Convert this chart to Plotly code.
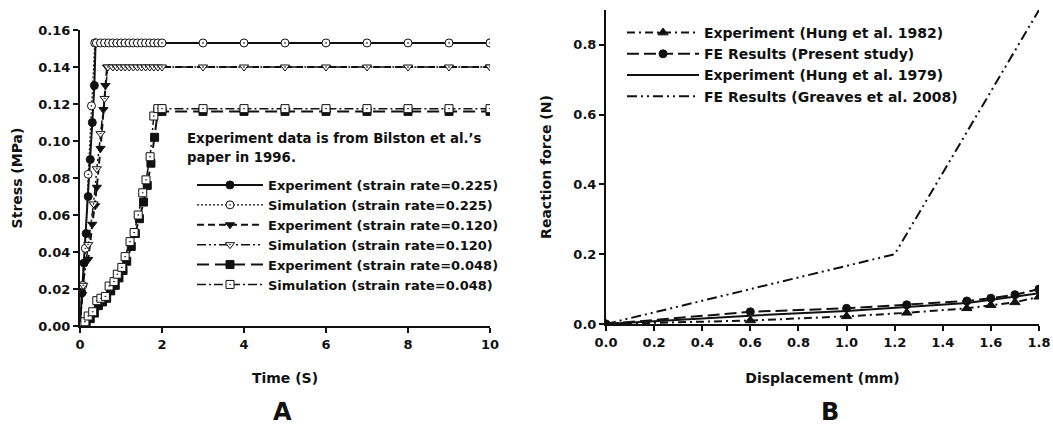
import plotly.graph_objects as go

# ---------------- Panel A data ----------------
exp225_x = [0, 0.05, 0.10, 0.15, 0.20, 0.25, 0.30, 0.35, 0.38, 10]
exp225_y = [0, 0.018, 0.034, 0.050, 0.070, 0.090, 0.110, 0.130, 0.153, 0.153]

sim225_x = [0, 0.07, 0.13, 0.20, 0.28, 0.36, 0.4, 0.5, 0.6, 0.7, 0.8, 0.9, 1.0, 1.1, 1.2,
            1.3, 1.4, 1.5, 1.6, 1.7, 1.8, 1.9, 2.0, 3, 4, 5, 6, 7, 8, 9, 10]
sim225_y = [0, 0.022, 0.042, 0.082, 0.119, 0.153] + [0.153] * 25

exp120_x = [0, 0.05, 0.10, 0.20, 0.30, 0.37, 0.41, 0.50, 0.57, 0.62, 0.66, 10]
exp120_y = [0, 0.017, 0.034, 0.036, 0.055, 0.065, 0.075, 0.096, 0.117, 0.130, 0.140, 0.140]

sim120_x = [0, 0.08, 0.20, 0.33, 0.41, 0.50, 0.60, 0.68, 0.8, 0.9, 1.0, 1.1, 1.2, 1.3,
            1.4, 1.5, 1.6, 1.7, 1.8, 1.9, 2.0, 3, 4, 5, 6, 7, 8, 9, 10]
sim120_y = [0, 0.022, 0.044, 0.066, 0.085, 0.104, 0.123, 0.140] + [0.140] * 21

exp048_x = [0, 0.15, 0.25, 0.35, 0.45, 0.55, 0.65, 0.75, 0.86, 0.95, 1.05, 1.14, 1.25,
            1.35, 1.45, 1.55, 1.64, 1.73, 1.82, 1.9, 2, 3, 4, 5, 6, 7, 8, 9, 10]
exp048_y = [0, 0.002, 0.004, 0.007, 0.011, 0.013, 0.015, 0.019, 0.022, 0.026, 0.030, 0.035,
            0.043, 0.050, 0.058, 0.067, 0.076, 0.088, 0.102, 0.116] + [0.116] * 9

sim048_x = [0, 0.12, 0.20, 0.31, 0.41, 0.51, 0.62, 0.71, 0.83, 0.91, 1.02, 1.10, 1.22,
            1.32, 1.42, 1.53, 1.61, 1.71, 1.80, 1.9, 2, 3, 4, 5, 6, 7, 8, 9, 10]
sim048_y = [0, 0.0023, 0.0054, 0.0077, 0.0137, 0.015, 0.016, 0.0216, 0.024, 0.028, 0.0317,
            0.0375, 0.0456, 0.0505, 0.060, 0.072, 0.079, 0.0915, 0.1135, 0.1175] + [0.1175] * 9

# ---------------- Panel B data ----------------
hung82_x = [0, 0.6, 1.0, 1.25, 1.5, 1.6, 1.7, 1.8]
hung82_y = [0, 0.010, 0.022, 0.032, 0.045, 0.054, 0.062, 0.078]

fe_x = [0, 0.6, 1.0, 1.25, 1.5, 1.6, 1.7, 1.8]
fe_y = [0, 0.035, 0.045, 0.055, 0.066, 0.074, 0.084, 0.100]

hung79_x = [0, 0.6, 1.0, 1.25, 1.5, 1.8]
hung79_y = [0, 0.024, 0.037, 0.048, 0.060, 0.088]

greaves_x = [0, 0.6, 1.2, 1.8]
greaves_y = [0, 0.100, 0.200, 0.900]

FONT = "DejaVu Sans, Arial, sans-serif"
BLACK = "#111111"

fig = go.Figure()

def add(x, y, name, dash, width, symbol, fill, size, legend, xa, ya):
    fig.add_trace(go.Scatter(
        x=x, y=y, name=name, mode="lines+markers" if symbol else "lines",
        line=dict(color=BLACK, dash=dash, width=width),
        marker=dict(symbol=symbol or "circle", color=fill, size=size,
                    line=dict(color=BLACK, width=1)),
        legend=legend, xaxis=xa, yaxis=ya))

# Panel A
add(exp225_x, exp225_y, "Experiment (strain rate=0.225)", "solid", 2, "circle", BLACK, 8, "legend", "x", "y")
add(exp120_x, exp120_y, "Experiment (strain rate=0.120)", "7px,4px", 2, "triangle-down", BLACK, 8, "legend", "x", "y")
add(exp048_x, exp048_y, "Experiment (strain rate=0.048)", "12px,6px", 2, "square", BLACK, 8, "legend", "x", "y")
add(sim225_x, sim225_y, "Simulation (strain rate=0.225)", "2px,2px", 1.2, "circle-dot", "white", 8, "legend", "x", "y")
add(sim120_x, sim120_y, "Simulation (strain rate=0.120)", "9px,3px,2px,3px,2px,3px", 1.5, "triangle-down-dot", "white", 8, "legend", "x", "y")
add(sim048_x, sim048_y, "Simulation (strain rate=0.048)", "9px,3px,2px,3px", 1.5, "square-dot", "white", 8, "legend", "x", "y")

# Panel B
add(hung82_x, hung82_y, "Experiment (Hung et al. 1982)", "8px,4px,2px,4px", 2, "triangle-up", BLACK, 9, "legend2", "x2", "y2")
add(fe_x, fe_y, "FE Results (Present study)", "12px,5px", 2, "circle", BLACK, 8, "legend2", "x2", "y2")
add(hung79_x, hung79_y, "Experiment (Hung et al. 1979)", "solid", 2, None, BLACK, 8, "legend2", "x2", "y2")
add(greaves_x, greaves_y, "FE Results (Greaves et al. 2008)", "10px,4px,2px,4px,2px,4px", 2, None, BLACK, 8, "legend2", "x2", "y2")

def font(size):
    return dict(family=FONT, size=size, color=BLACK, weight="bold")

axis_common = dict(showline=True, linecolor=BLACK, linewidth=2, ticks="outside",
                   ticklen=5, tickwidth=2, tickcolor=BLACK, showgrid=False, zeroline=False,
                   tickfont=font(13), mirror=False, automargin=False)

fig.update_layout(
    width=1053, height=428, margin=dict(l=0, r=0, t=0, b=0, autoexpand=False),
    paper_bgcolor="white", plot_bgcolor="white",
    font=dict(family=FONT, color=BLACK),
    xaxis=dict(domain=[80 / 1053, 490 / 1053], range=[0, 10], dtick=2, anchor="y",
               title=dict(text="Time (S)", font=font(14), standoff=23), **axis_common),
    yaxis=dict(domain=[102 / 428, 398 / 428], range=[0, 0.16], dtick=0.02, tickformat=".2f",
               anchor="x", title=dict(text="Stress (MPa)", font=font(14), standoff=12), **axis_common),
    xaxis2=dict(domain=[606 / 1053, 1039 / 1053], range=[0, 1.8], dtick=0.2, tickformat=".1f",
                anchor="y2", title=dict(text="Displacement (mm)", font=font(14), standoff=25), **axis_common),
    yaxis2=dict(domain=[104 / 428, 418 / 428], range=[0, 0.9], dtick=0.2, tickformat=".1f",
                anchor="x2", title=dict(text="Reaction force (N)", font=font(14), standoff=18), **axis_common),
    legend=dict(x=192 / 1053, y=1 - 170 / 428, xanchor="left", yanchor="top", itemwidth=66,
                bgcolor="rgba(0,0,0,0)", tracegroupgap=0, traceorder="normal", font=font(13)),
    legend2=dict(x=622 / 1053, y=1 - 17 / 428, xanchor="left", yanchor="top", itemwidth=72,
                 bgcolor="rgba(0,0,0,0)", tracegroupgap=0, traceorder="normal", font=font(14)),
    showlegend=True,
    annotations=[
        dict(text="Experiment data is from Bilston et al.’s", xref="paper", yref="paper",
             x=185 / 1053, y=1 - 138 / 428, xanchor="left", yanchor="middle", showarrow=False,
             font=font(13.3)),
        dict(text="paper in 1996.", xref="paper", yref="paper",
             x=185 / 1053, y=1 - 157 / 428, xanchor="left", yanchor="middle", showarrow=False,
             font=font(13.3)),
        dict(text="A", xref="paper", yref="paper", x=282 / 1053, y=1 - 412 / 428,
             xanchor="center", yanchor="middle", showarrow=False, font=font(24)),
        dict(text="B", xref="paper", yref="paper", x=830 / 1053, y=1 - 412 / 428,
             xanchor="center", yanchor="middle", showarrow=False, font=font(24)),
    ],
)

order = {"Experiment (strain rate=0.225)": 1, "Simulation (strain rate=0.225)": 2,
         "Experiment (strain rate=0.120)": 3, "Simulation (strain rate=0.120)": 4,
         "Experiment (strain rate=0.048)": 5, "Simulation (strain rate=0.048)": 6}
for tr in fig.data:
    if tr.name in order:
        tr.legendrank = order[tr.name]

fig.write_html("out.html", config={"displayModeBar": False},
               post_script="document.body.style.margin='0';document.body.style.overflow='hidden';")
